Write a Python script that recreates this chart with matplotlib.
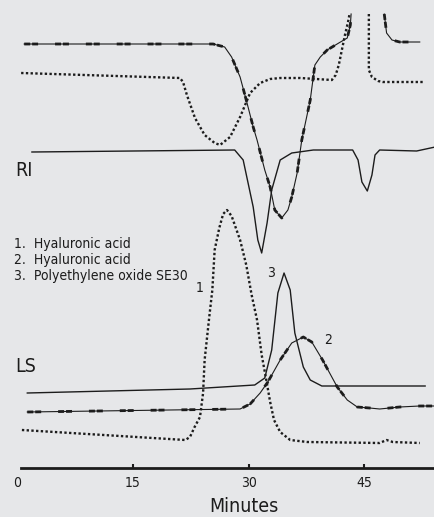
import matplotlib.pyplot as plt

plt.rcParams["font.family"] = ["DejaVu Sans"]
plt.rcParams["font.stretch"] = "condensed"
plt.rcParams["lines.scale_dashes"] = False

INK = "#1c1c1c"
BG = "#e6e7e9"

# Elution time (minutes) and detector response (arbitrary units, stacked)
# Sample 1: hyaluronic acid (dotted)
ri1_a_t = [0.5, 21.1, 21.5, 22.0, 23.05, 24.3, 25.6, 26.3, 27.6, 28.9, 30.2, 31.5,
           32.8, 34.1, 36.7, 40.8, 41.3, 41.7, 42.1, 42.5, 42.9, 43.1]
ri1_a_y = [444, 439, 435, 422, 399, 382, 374, 372, 380, 400, 424, 434,
           438, 439, 439, 437, 442, 452, 467, 482, 495, 503]
ri1_b_t = [45.6, 45.6, 46.0, 46.8, 47.4, 52.6]
ri1_b_y = [503, 447, 440, 436, 435, 435]

ls1_t = [0.6, 21.8, 22.4, 23.0, 23.7, 24.1, 24.3, 24.9, 25.3, 25.6, 26.2, 26.7,
         27.2, 27.8, 28.9, 29.7, 30.4, 31.1, 31.7, 32.3, 32.8, 33.3, 34.1, 35.4,
         37.6, 47.0, 47.9, 48.7, 52.2]
ls1_y = [87, 77, 80, 90, 100, 124, 157, 200, 227, 267, 289, 303,
         307, 301, 277, 252, 222, 197, 162, 137, 115, 97, 85, 77,
         75, 74, 77, 75, 74]

# Sample 2: hyaluronic acid (dashed)
ri2_a_t = [0.9, 25.4, 26.9, 27.8, 28.9, 29.8, 30.6, 31.1, 32.1, 32.8, 33.4, 34.3,
           35.1, 35.6, 36.3, 36.9, 38.0, 38.6, 39.3, 40.2, 41.7, 42.8, 43.2, 43.3]
ri2_a_y = [473, 473, 470, 460, 440, 414, 390, 377, 347, 330, 307, 299,
           307, 320, 344, 377, 417, 452, 460, 467, 474, 479, 492, 503]
ri2_b_t = [47.6, 47.9, 48.6, 49.6, 52.2]
ri2_b_y = [503, 484, 477, 475, 475]

ls2_t = [1.3, 28.9, 30.2, 31.5, 32.5, 34.1, 35.6, 37.1, 38.2, 39.6, 41.5, 42.8,
         44.1, 45.7, 47.0, 49.6, 52.2, 54.2]
ls2_y = [105, 108, 113, 124, 135, 157, 174, 180, 175, 157, 130, 117,
         110, 109, 108, 110, 111, 111]

# Sample 3: polyethylene oxide SE30 (solid)
ri3_t = [1.9, 28.2, 29.3, 30.6, 31.2, 31.7, 32.4, 33.0, 34.1, 35.6, 38.4, 43.5,
         44.2, 44.7, 45.4, 46.0, 46.4, 47.0, 51.8, 54.2]
ri3_y = [365, 367, 357, 310, 277, 264, 294, 327, 357, 364, 367, 367,
         357, 335, 326, 342, 362, 367, 366, 370]

ls3_t = [1.3, 22.4, 30.8, 32.1, 33.0, 33.8, 34.6, 35.4, 36.0, 37.1, 38.0, 39.5, 52.9]
ls3_y = [124, 128, 132, 139, 167, 224, 244, 227, 184, 150, 137, 131, 131]

legend_lines = ["1.  Hyaluronic acid", "2.  Hyaluronic acid", "3.  Polyethylene oxide SE30"]
time_ticks = [0, 15, 30, 45]


def dotted(ax, t, y):
    line, = ax.plot(t, y, color=INK, lw=1.7)
    line.set_dashes([1.7, 1.7])
    line.set_dash_capstyle("butt")


def dashed(ax, t, y):
    ax.plot(t, y, color=INK, lw=0.8)
    line, = ax.plot(t, y, color=INK, lw=2.0)
    line.set_dashes([4.3, 1.4, 4.3, 12.2])
    line.set_dash_capstyle("butt")


def solid(ax, t, y):
    ax.plot(t, y, color=INK, lw=1.0)


fig = plt.figure(figsize=(4.35, 5.17), dpi=100)
fig.patch.set_facecolor(BG)
ax = fig.add_axes([0, 0, 1, 1])
ax.set_facecolor(BG)
ax.set_xlim(-2.24, 54.18)
ax.set_ylim(0, 517)

# RI traces
dashed(ax, ri2_a_t, ri2_a_y)
dashed(ax, ri2_b_t, ri2_b_y)
dotted(ax, ri1_a_t, ri1_a_y)
dotted(ax, ri1_b_t, ri1_b_y)
solid(ax, ri3_t, ri3_y)

# LS traces
solid(ax, ls3_t, ls3_y)
dashed(ax, ls2_t, ls2_y)
dotted(ax, ls1_t, ls1_y)

ax.text(-0.25, 346, "RI", fontsize=14, color=INK, ha="left", va="center")
ax.text(-0.3, 150, "LS", fontsize=14, color=INK, ha="left", va="center")
for i, s in enumerate(legend_lines):
    ax.text(-0.43, 273 - 16 * i, s, fontsize=10, color=INK, ha="left", va="center")
ax.text(23.6, 229, "1", fontsize=10, color=INK, ha="center", va="center")
ax.text(32.9, 244, "3", fontsize=10, color=INK, ha="center", va="center")
ax.text(40.3, 177, "2", fontsize=10, color=INK, ha="center", va="center")

# time axis
for side in ("left", "right", "top"):
    ax.spines[side].set_visible(False)
ax.spines["bottom"].set_position(("data", 49))
ax.spines["bottom"].set_bounds(0.48, 54.18)
ax.spines["bottom"].set_linewidth(2.0)
ax.spines["bottom"].set_color(INK)
ax.set_xticks(time_ticks)
ax.set_yticks([])
ax.tick_params(axis="x", direction="in", length=3, width=1.5, color=INK,
               labelsize=10, labelcolor=INK, pad=6)
ax.xaxis.get_major_ticks()[0].tick1line.set_visible(False)
ax.text(29.4, 5, "Minutes", fontsize=14, color=INK, ha="center", va="baseline")

fig.savefig("out.png", dpi=100, facecolor=BG)
